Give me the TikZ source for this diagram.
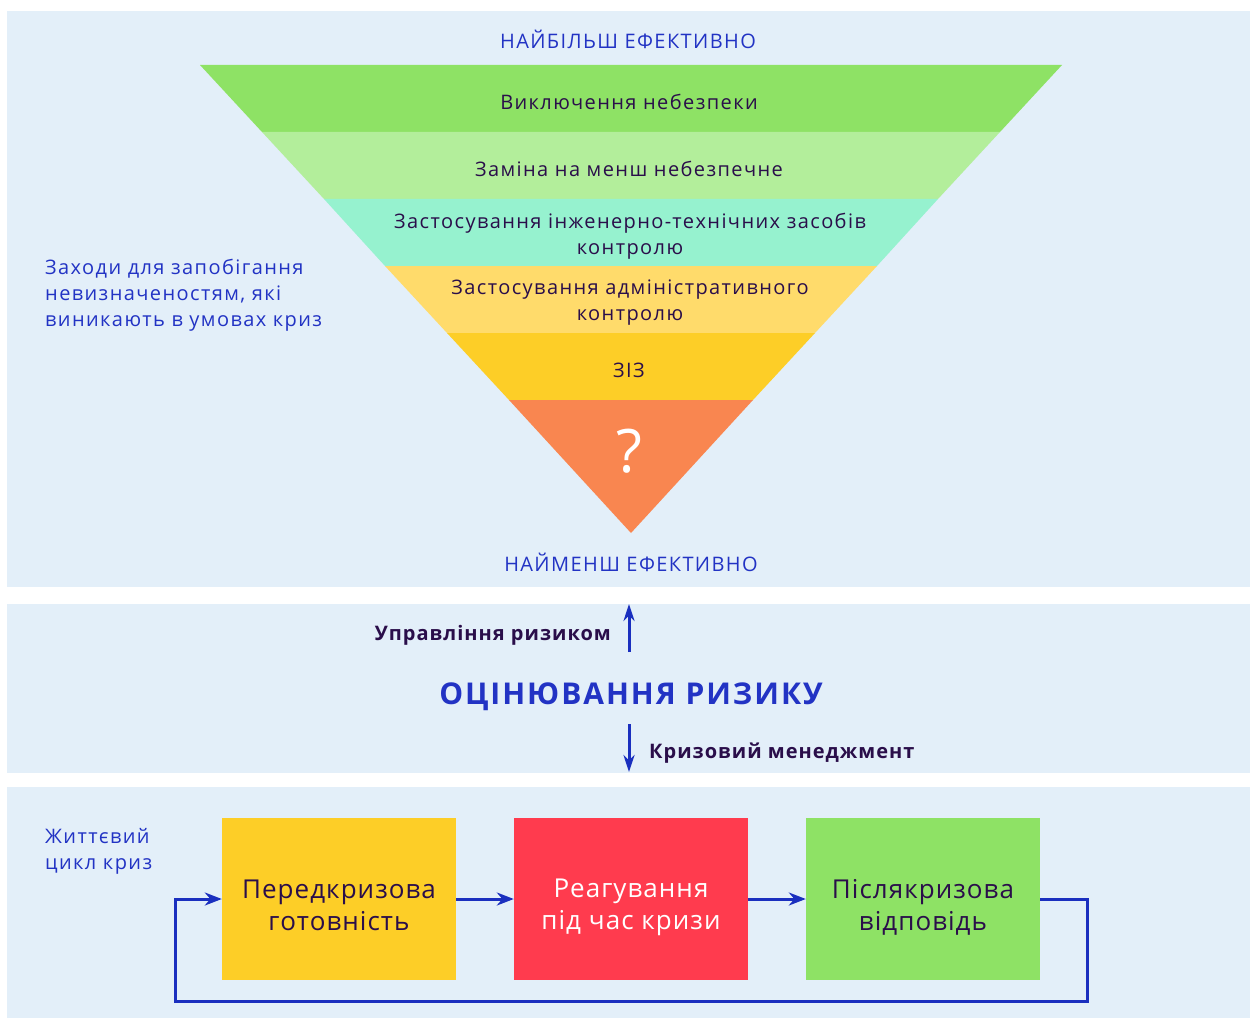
\documentclass[tikz,border=0pt]{standalone}
\usepackage{fontspec}
\setmainfont{Open Sans}
\newfontfamily\trk{Open Sans}[LetterSpace=7]
\newfontfamily\trkb{Open Sans}[LetterSpace=5]
\newfontfamily\trkt{Open Sans}[LetterSpace=6.5]
\newfontfamily\trkbox{Open Sans}[LetterSpace=4]
\usetikzlibrary{arrows.meta}
\definecolor{panelbg}{HTML}{E3EFF9}
\definecolor{bluetxt}{HTML}{2233C4}
\definecolor{darktxt}{HTML}{2A0E4A}
\definecolor{lineblue}{HTML}{1A2FBF}
\definecolor{bandA}{HTML}{8EE265}
\definecolor{bandB}{HTML}{B3EE9B}
\definecolor{bandC}{HTML}{96F2CF}
\definecolor{bandD}{HTML}{FFDB6B}
\definecolor{bandE}{HTML}{FDCE27}
\definecolor{bandF}{HTML}{F98650}
\definecolor{boxred}{HTML}{FF3B4E}
\tikzset{
  bandtext/.style={text=darktxt, align=center, font=\trk\fontsize{20}{26}\selectfont, inner sep=0pt},
  bluelabel/.style={text=bluetxt, font=\trk\fontsize{20}{26}\selectfont, inner sep=0pt},
  sidelabel/.style={text=bluetxt, align=left, anchor=west, font=\trk\fontsize{20}{26}\selectfont, inner sep=0pt},
  boldlabel/.style={text=darktxt, font=\trkb\fontsize{20}{26}\selectfont\bfseries, inner sep=0pt},
  cyclebox/.style={minimum width=234pt, minimum height=162pt, inner sep=0pt, align=center, font=\trkbox\fontsize{26}{32}\selectfont},
  conn/.style={draw=lineblue, line width=3pt, -{Stealth[length=17pt,width=13pt]}},
  vconn/.style={draw=lineblue, line width=3pt, -{Stealth[length=17pt,width=11pt]}}
}
\begin{document}
\begin{tikzpicture}[x=1pt,y=-1pt]
\useasboundingbox (0,0) rectangle (1250,1019);
\fill[white] (0,0) rectangle (1250,1019);
% panels
\fill[panelbg] (7,11) rectangle (1250,587);
\fill[panelbg] (7,604) rectangle (1250,773);
\fill[panelbg] (7,787) rectangle (1250,1018);
% pyramid bands
\fill[bandA] (200,65) -- (1062,65) -- (1000,132) -- (262,132) -- cycle;
\fill[bandB] (262,132) -- (1000,132) -- (938,199) -- (324,199) -- cycle;
\fill[bandC] (324,199) -- (938,199) -- (877,266) -- (385,266) -- cycle;
\fill[bandD] (385,266) -- (877,266) -- (815,333) -- (447,333) -- cycle;
\fill[bandE] (447,333) -- (815,333) -- (753,400) -- (509,400) -- cycle;
\fill[bandF] (509,400) -- (753,400) -- (631,533) -- cycle;
% band texts
\node[bluelabel] (top) at (628,39) {НАЙБІЛЬШ ЕФЕКТИВНО};
\node[bandtext] (b1) at (629,102) {Виключення небезпеки};
\node[bandtext] (b2) at (629,169) {Заміна на менш небезпечне};
\node[bandtext] (b3) at (630,236) {Застосування інженерно-технічних засобів\\контролю};
\node[bandtext] (b4) at (630,303) {Застосування адміністративного\\контролю};
\node[bandtext] (b5) at (629,370) {ЗІЗ};
\node[text=white, inner sep=0pt, font=\fontsize{60}{60}\selectfont] (b6) at (629,451) {?};
\node[bluelabel] (bottom) at (631,562) {НАЙМЕНШ ЕФЕКТИВНО};
\node[sidelabel] (measures) at (45,295) {Заходи для запобігання\\невизначеностям, які\\виникають в умовах криз};
% middle
\node[text=bluetxt, inner sep=0pt, font=\trkt\fontsize{30}{34}\selectfont\bfseries] (assess) at (631,697) {ОЦІНЮВАННЯ РИЗИКУ};
\coordinate (upS) at (629,652);
\coordinate (upE) at (629,604);
\coordinate (dnS) at (629,724);
\coordinate (dnE) at (629,772);
\draw[vconn] (upS) -- (upE);
\draw[vconn] (dnS) -- (dnE);
\node[boldlabel, anchor=east] (rm) at (611,635) {Управління ризиком};
\node[boldlabel, anchor=west] (cm) at (649,753) {Кризовий менеджмент};
% bottom
\node[sidelabel] (life) at (45,851) {Життєвий\\цикл криз};
\node[cyclebox, fill=bandE, text=darktxt] (c1) at (339,899) {\rule{0pt}{31pt}Передкризова\\готовність};
\node[cyclebox, fill=boxred, text=white] (c2) at (631,899) {\rule{0pt}{35pt}Реагування\\під час кризи};
\node[cyclebox, fill=bandA, text=darktxt] (c3) at (923,899) {\rule{0pt}{35pt}Післякризова\\відповідь};
\draw[conn] (c1) -- (c2);
\draw[conn] (c2) -- (c3);
\coordinate (lr) at (1087,1001);
\coordinate (ll) at (175,1001);
\draw[conn] (c3.east) -| (lr) -- (ll) |- (c1.west);
\end{tikzpicture}
\end{document}
